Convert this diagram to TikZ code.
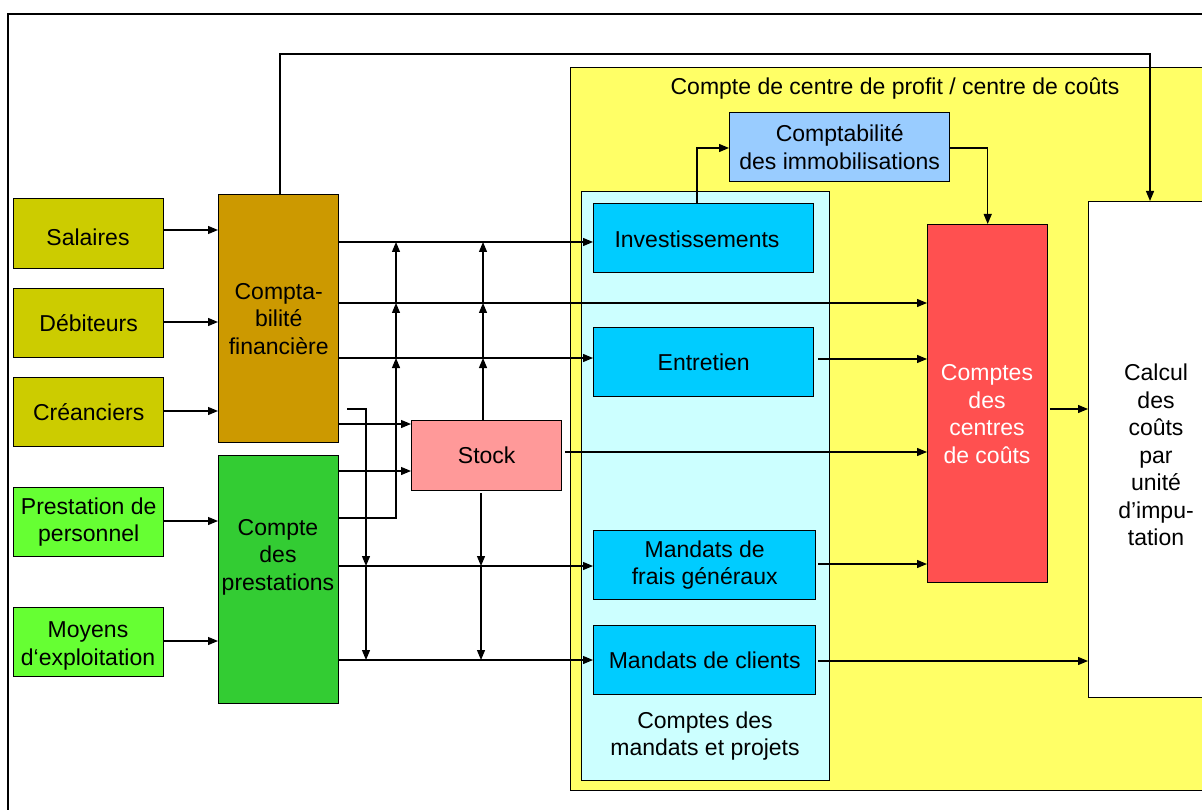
\documentclass[tikz,border=0pt]{standalone}
\usepackage{fontspec}
\setmainfont{Liberation Sans}
\usetikzlibrary{arrows.meta}
\definecolor{olivey}{RGB}{204,204,0}
\definecolor{ochre}{RGB}{204,153,0}
\definecolor{lgreen}{RGB}{102,255,51}
\definecolor{dgreen}{RGB}{51,204,51}
\definecolor{stockc}{RGB}{255,153,153}
\definecolor{yel}{RGB}{255,255,102}
\definecolor{lcyan}{RGB}{204,255,255}
\definecolor{cyanb}{RGB}{0,204,255}
\definecolor{lblue}{RGB}{153,204,255}
\definecolor{redb}{RGB}{255,80,80}
\begin{document}
\begin{tikzpicture}[x=1pt,y=-1pt,
  box/.style={draw=black, line width=1.4pt, inner sep=0pt, anchor=north west, align=center, font=\fontsize{23}{27.5}\selectfont},
  txt/.style={inner sep=0pt, align=center, font=\fontsize{23}{27.5}\selectfont},
  ln/.style={line width=1.2pt},
  arr/.style={line width=1.2pt, -{Triangle[length=10pt,width=8pt]}},
]
\useasboundingbox (0,0) rectangle (1202,810);
\clip (0,0) rectangle (1202,810);
% outer frame
\draw[line width=1.6pt] (8,14) rectangle (1240,850);
% profit centre container
\node[box, fill=yel, line width=1.2pt, minimum width=670pt, minimum height=723pt] (pc) at (570,67) {};
\node[txt] (pct) at (895,89) {Compte de centre de profit / centre de coûts};
% mandates container
\node[box, fill=lcyan, line width=1.2pt, minimum width=248pt, minimum height=589pt] (ma) at (581,191) {};
\node[txt] (mat) at (705,736) {Comptes des\\mandats et projets};
% left inputs
\node[box, fill=olivey, minimum width=150pt, minimum height=70pt] (sal) at (13,198) {};
\node[txt] (salt) at (88,237) {Salaires};
\node[box, fill=olivey, minimum width=150pt, minimum height=69pt] (deb) at (13,288) {Débiteurs};
\node[box, fill=olivey, minimum width=150pt, minimum height=69pt] (cre) at (13,377) {Créanciers};
\node[box, fill=lgreen, minimum width=150pt, minimum height=69pt] (pre) at (13,487) {Prestation de\\personnel};
\node[box, fill=lgreen, minimum width=150pt, minimum height=69pt] (moy) at (13,607) {};
\node[txt] (moyt) at (88,646) {Moyens\\d‘exploitation};
% accounting
\node[box, fill=ochre, minimum width=120pt, minimum height=248pt] (cf) at (218,194) {Compta-\\bilité\\financière};
\node[box, fill=dgreen, minimum width=120pt, minimum height=248pt] (cp) at (218,455) {};
\node[txt] (cpt) at (278,557) {Compte\\des\\prestations};
\node[box, fill=stockc, minimum width=150pt, minimum height=70pt] (stk) at (411,420) {Stock};
% mandates
\node[box, fill=cyanb, minimum width=220pt, minimum height=69pt] (inv) at (593,203) {};
\node[txt] (invt) at (697,239) {Investissements};
\node[box, fill=cyanb, minimum width=220pt, minimum height=69pt] (ent) at (593,327) {Entretien};
\node[box, fill=cyanb, minimum width=222pt, minimum height=69pt] (mfg) at (593,530) {Mandats de\\frais généraux};
\node[box, fill=cyanb, minimum width=222pt, minimum height=69pt] (mcl) at (593,625) {Mandats de clients};
\node[box, fill=lblue, minimum width=220pt, minimum height=69pt] (imm) at (729,112) {Comptabilité\\des immobilisations};
\node[box, fill=redb, minimum width=120pt, minimum height=358pt] (red) at (927,224) {};
\node[txt, text=white] (redt) at (987,414) {Comptes\\des\\centres\\de coûts};
\node[box, fill=white, minimum width=136pt, minimum height=496pt] (cal) at (1088,201) {};
\node[txt] (calt) at (1156,455) {Calcul\\des\\coûts\\par\\unité\\d’impu-\\tation};
% inputs to accounting
\draw[arr] (sal.east |- 0,230) -- (cf.west |- 0,230);
\draw[arr] (deb.east |- 0,322) -- (cf.west |- 0,322);
\draw[arr] (cre.east |- 0,411) -- (cf.west |- 0,411);
\draw[arr] (pre.east |- 0,521) -- (cp.west |- 0,521);
\draw[arr] (moy.east |- 0,641) -- (cp.west |- 0,641);
% financial accounting outputs
\draw[arr] (cf.east |- 0,242) -- (inv.west |- 0,242);
\draw[arr] (cf.east |- 0,303) -- (red.west |- 0,303);
\draw[arr] (cf.east |- 0,358) -- (ent.west |- 0,358);
\draw[arr] (cf.east |- 0,424) -- (stk.west |- 0,424);
\draw[arr] ([xshift=8pt]cf.east |- 0,409) -- (366,409) -- (366,566);
\draw[arr] (366,566) -- (366,660);
% services outputs
\draw[arr] (cp.east |- 0,471) -- (stk.west |- 0,471);
\draw[arr] (cp.east |- 0,518) -- (396,518) -- (396,358);
\draw[arr] (396,358) -- (396,303);
\draw[arr] (396,303) -- (396,242);
\draw[arr] (cp.east |- 0,566) -- (mfg.west |- 0,566);
\draw[arr] (cp.east |- 0,660) -- (mcl.west |- 0,660);
% stock
\draw[arr] (stk.north -| 483,0) -- (483,358);
\draw[arr] (483,358) -- (483,303);
\draw[arr] (483,303) -- (483,242);
\draw[arr] ([yshift=-2pt]stk.south -| 481,0) -- (481,566);
\draw[arr] (481,566) -- (481,660);
\draw[arr] ([xshift=3pt]stk.east |- 0,452) -- (red.west |- 0,452);
% mandates to cost centres
\draw[arr] ([xshift=4pt]ent.east |- 0,359) -- (red.west |- 0,359);
\draw[arr] ([xshift=2pt]mfg.east |- 0,564) -- (red.west |- 0,564);
\draw[arr] ([xshift=2pt]mcl.east |- 0,661) -- (cal.west |- 0,661);
\draw[arr] ([xshift=2pt]red.east |- 0,409) -- (cal.west |- 0,409);
% fixed assets
\draw[arr] (inv.north -| 697,0) -- (697,148) -- (imm.west |- 0,148);
\draw[arr] (imm.east |- 0,148) -- (red.north |- 0,148) -- (red.north);
% top line
\draw[arr] (cf.north -| 280,0) -- (280,54) -- (1150,54) -- (cal.north -| 1150,0);
\end{tikzpicture}
\end{document}
